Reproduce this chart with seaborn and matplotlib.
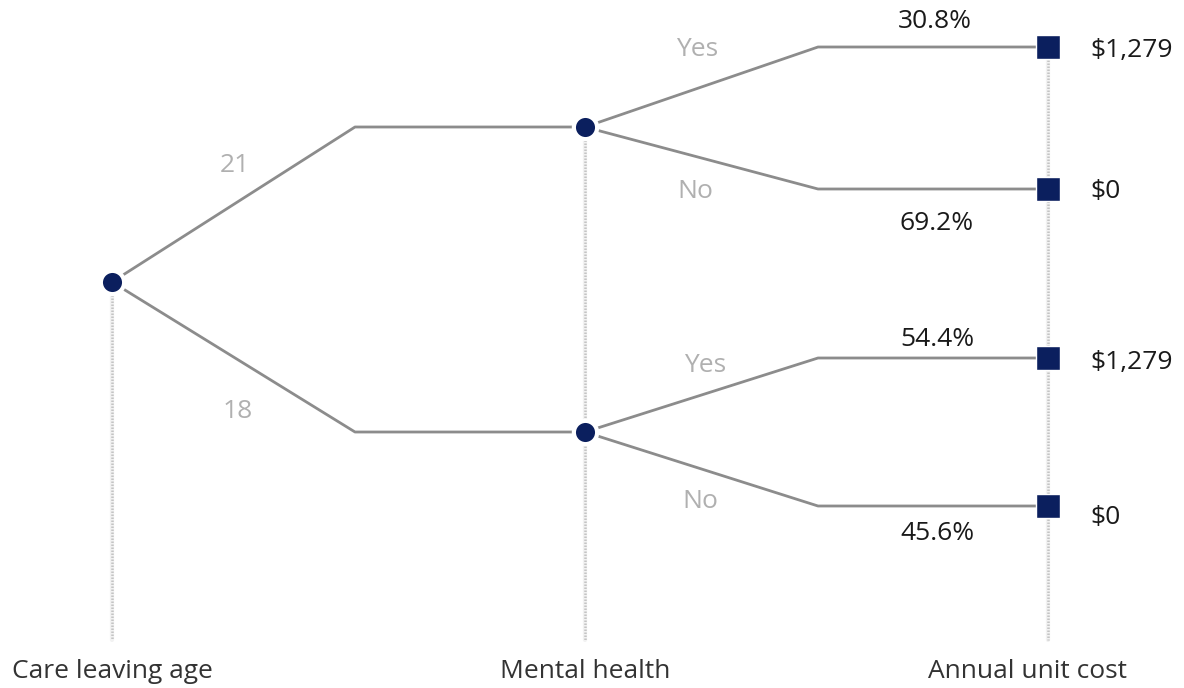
import matplotlib
matplotlib.use("Agg")
import matplotlib.pyplot as plt
import seaborn as sns
import pandas as pd

# Decision tree content
stages = ["Care leaving age", "Mental health", "Annual unit cost"]
age_options = ["21", "18"]
mh_options = ["Yes", "No"]
mh_probs = [["30.8%", "69.2%"], ["54.4%", "45.6%"]]
costs = [["$1,279", "$0"], ["$1,279", "$0"]]

# Layout (pixel space, y downwards)
W, H = 1184, 688
stage_x = [112, 585, 1048]
elbow_x = [355, 818]
root_y = 282
mh_y = [127, 432]
leaf_y = [[47, 189], [358, 506]]
axis_bottom = 640
dy = 2  # small baseline nudge for text

sns.set_theme(style="white")
plt.rcParams["font.family"] = ["Open Sans", "DejaVu Sans"]

fig = plt.figure(figsize=(W / 100, H / 100), dpi=100)
ax = fig.add_axes([0, 0, 1, 1])
ax.set_xlim(0, W)
ax.set_ylim(H, 0)
ax.axis("off")

line_col = "#8c8c8c"
node_col = "#0b1f5e"
label_grey = "#b0b0b0"
text_col = "#1a1a1a"

# Dotted stage guides
guide_top = [root_y + 13, mh_y[0] + 13, leaf_y[0][0] + 13]
guides = pd.DataFrame({
    "x": [v for sx in stage_x for v in (sx, sx)],
    "y": [v for gt in guide_top for v in (gt, axis_bottom)],
    "g": [i for i in range(3) for _ in range(2)],
})
sns.lineplot(data=guides, x="x", y="y", units="g", estimator=None, sort=False,
             color="#f2f2f2", lw=3.0, ax=ax, legend=False)
sns.lineplot(data=guides, x="x", y="y", units="g", estimator=None, sort=False,
             color="#c4c4c4", lw=1.8, linestyle=(0, (0.6, 0.6)), ax=ax, legend=False)

# Branch edges
rows = []
eid = 0
for i in range(2):
    pts = [(stage_x[0], root_y), (elbow_x[0], mh_y[i]), (stage_x[1], mh_y[i])]
    for x, y in pts:
        rows.append((x, y, eid))
    eid += 1
    for j in range(2):
        pts = [(stage_x[1], mh_y[i]), (elbow_x[1], leaf_y[i][j]), (stage_x[2], leaf_y[i][j])]
        for x, y in pts:
            rows.append((x, y, eid))
        eid += 1
edges = pd.DataFrame(rows, columns=["x", "y", "e"])
sns.lineplot(data=edges, x="x", y="y", units="e", estimator=None, sort=False,
             color=line_col, lw=2.0, ax=ax, legend=False)

# Chance nodes
chance = pd.DataFrame({"x": [stage_x[0]] + [stage_x[1]] * 2, "y": [root_y] + mh_y})
sns.scatterplot(data=chance, x="x", y="y", s=280, color=node_col,
                edgecolor="white", linewidth=3, zorder=5, ax=ax, legend=False)

# Terminal nodes
term = pd.DataFrame({"x": [stage_x[2]] * 4, "y": [y for r in leaf_y for y in r]})
sns.scatterplot(data=term, x="x", y="y", s=290, marker="s", color=node_col,
                edgecolor="white", linewidth=1, zorder=5, ax=ax, legend=False)

fs = 19
# Age branch labels
age_lbl_pos = [(235, 163), (238, 410)]
for (x, y), t in zip(age_lbl_pos, age_options):
    ax.text(x, y + dy, t, color=label_grey, fontsize=fs, ha="center", va="center")

# Mental health branch labels
mh_lbl_pos = [[(697, 48), (695, 190)], [(705, 363), (700, 499)]]
for i in range(2):
    for j in range(2):
        x, y = mh_lbl_pos[i][j]
        ax.text(x, y + dy, mh_options[j], color=label_grey, fontsize=fs,
                ha="center", va="center")

# Probabilities above/below leaf edges
prob_pos = [[(935, 20), (937, 221)], [(937, 338), (937, 532)]]
for i in range(2):
    for j in range(2):
        x, y = prob_pos[i][j]
        ax.text(x, y + dy, mh_probs[i][j], color=text_col, fontsize=fs,
                ha="center", va="center")

# Costs beside terminal nodes
cost_y = [[48, 190], [361, 515]]
for i in range(2):
    for j in range(2):
        ax.text(1090, cost_y[i][j] + dy, costs[i][j], color=text_col, fontsize=fs,
                ha="left", va="center")

# Stage titles
stage_lbl_x = [112, 585, 1028]
for x, t in zip(stage_lbl_x, stages):
    ax.text(x, 670 + dy, t, color="#333333", fontsize=fs, ha="center", va="center")

fig.savefig("out.png", dpi=100, facecolor="white")
